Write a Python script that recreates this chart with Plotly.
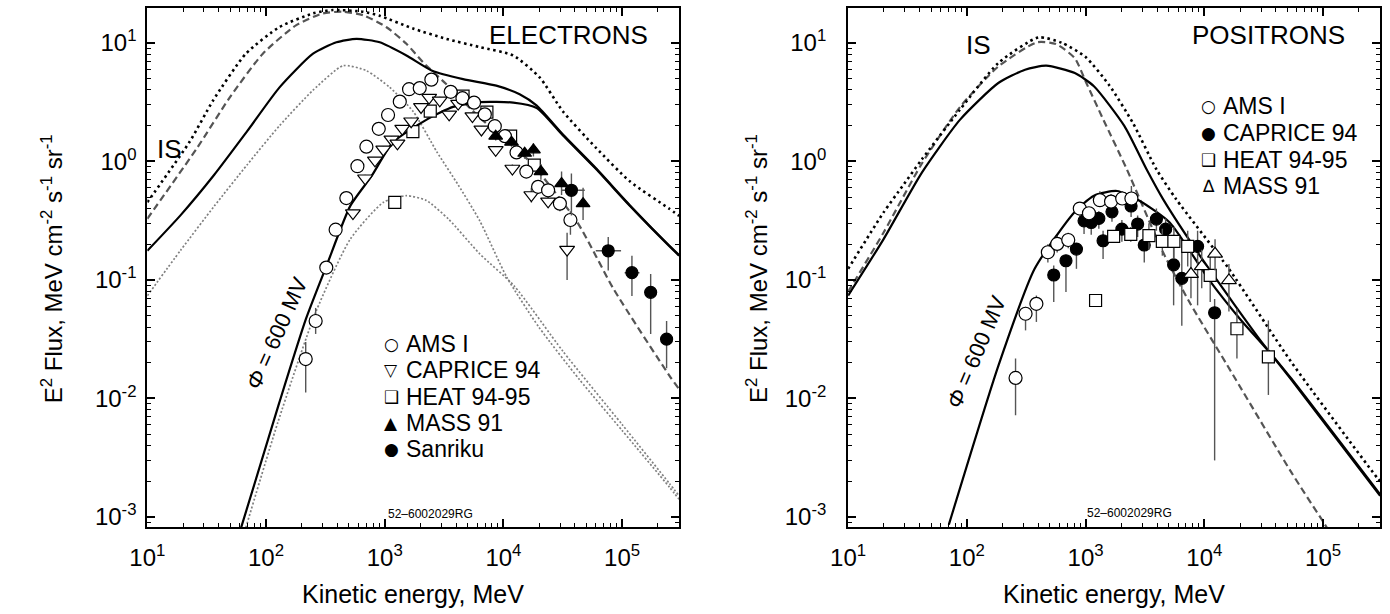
import plotly.graph_objects as go

FONT = "Liberation Sans, Arial, Helvetica, sans-serif"
W, H = 1390, 614

# ---------------- ELECTRONS: model curves (E in MeV, E^2 x flux) ----------------
el_is_dot_E = [10, 22.8, 35.8, 67.6, 130, 249, 366, 658, 908, 1730, 3310, 6310, 12100, 20200, 31600, 60300, 116000, 249000, 302000]
el_is_dot_F = [0.452, 1.47, 3.26, 8.09, 13.6, 17.7, 18.9, 18.3, 16.9, 13.2, 10.8, 9.20, 7.82, 5.11, 2.65, 1.30, 0.679, 0.399, 0.347]

el_dash_E = [10, 26.3, 49.4, 94.0, 180, 302, 443, 658, 1028, 1524, 2104, 3311, 6310, 16600, 41700, 85100, 251000, 302000]
el_dash_F = [0.328, 1.30, 3.45, 8.09, 14.1, 17.7, 18.3, 17.1, 13.6, 9.82, 6.85, 4.47, 2.34, 1.0, 0.309, 0.0832, 0.0155, 0.0120]

el_is_solid_E = [10, 19.1, 36.5, 69.2, 130, 249, 392, 579, 908, 1524, 2512, 4571, 8710, 13700, 19100, 31600, 60300, 116000, 249000, 302000]
el_is_solid_F = [0.176, 0.352, 0.767, 1.79, 4.21, 8.09, 10.1, 10.8, 10.1, 7.82, 5.82, 4.94, 4.35, 3.68, 2.95, 1.69, 0.873, 0.427, 0.195, 0.162]

el_mod_E = [61.7, 129, 217, 324, 513, 776, 1175, 2239, 3767, 6310, 12100, 19100, 31600, 60300, 116000, 249000, 302000]
el_mod_F = [0.000813, 0.00912, 0.0468, 0.132, 0.421, 0.753, 1.45, 2.24, 2.88, 3.16, 3.13, 2.82, 1.66, 0.861, 0.422, 0.193, 0.160]

el_gray_up_E = [10, 19.1, 36.5, 69.2, 130, 249, 447, 701, 1102, 1738, 2754, 4169, 6310, 10700, 19950, 43650, 100000, 251000, 302000]
el_gray_up_F = [0.0735, 0.178, 0.417, 0.933, 2.0, 3.98, 6.41, 5.82, 4.21, 2.63, 1.20, 0.631, 0.316, 0.105, 0.0398, 0.01445, 0.00537, 0.00178, 0.00141]

el_gray_lo_E = [67.6, 126, 263, 513, 977, 1514, 2239, 3467, 6310, 12300, 31600, 100000, 251000, 302000]
el_gray_lo_F = [0.000813, 0.00631, 0.0537, 0.221, 0.452, 0.513, 0.468, 0.324, 0.166, 0.0891, 0.0251, 0.00603, 0.00191, 0.00151]

# ---------------- ELECTRONS: data ----------------
el_ams_E = [216, 262, 322, 386, 475, 589, 701, 891, 1067, 1340, 1604, 1972, 2472, 3597, 4518, 5660, 6970, 8460, 10300, 12900, 15600, 19600, 23800, 29900, 36700]
el_ams_F = [0.0215, 0.045, 0.127, 0.265, 0.49, 0.91, 1.33, 1.88, 2.46, 3.19, 4.06, 4.15, 4.89, 3.86, 3.41, 3.13, 2.49, 1.98, 1.63, 1.19, 0.82, 0.61, 0.57, 0.44, 0.32]
el_ams_lo = [0.0112, 0.035, 0.115, 0.245, 0.46, 0.86, 1.26, 1.78, 2.33, 3.02, 3.85, 3.93, 4.63, 3.66, 3.23, 2.96, 2.36, 1.87, 1.54, 1.12, 0.77, 0.55, 0.51, 0.38, 0.24]
el_ams_hi = [0.030, 0.058, 0.14, 0.285, 0.52, 0.96, 1.40, 1.98, 2.59, 3.36, 4.28, 4.37, 5.15, 4.07, 3.6, 3.3, 2.62, 2.09, 1.72, 1.26, 0.87, 0.67, 0.63, 0.50, 0.38]

el_cap_E = [540, 684, 828, 973, 1140, 1280, 1406, 1671, 2023, 2366, 2911, 3491, 4157, 5485, 6530, 8610, 11900, 17200, 23800, 34400]
el_cap_F = [0.366, 0.72, 1.02, 1.26, 1.53, 1.42, 1.89, 2.18, 2.88, 3.45, 3.27, 2.49, 3.07, 2.41, 1.86, 1.25, 0.87, 0.52, 0.46, 0.18]
el_cap_lo = [0.34, 0.67, 0.95, 1.18, 1.43, 1.33, 1.77, 2.04, 2.69, 3.22, 3.05, 2.33, 2.87, 2.25, 1.74, 1.16, 0.80, 0.45, 0.41, 0.10]
el_cap_hi = [0.39, 0.77, 1.09, 1.35, 1.64, 1.52, 2.02, 2.33, 3.08, 3.69, 3.50, 2.66, 3.28, 2.58, 1.99, 1.34, 0.94, 0.60, 0.52, 0.25]

el_heat_E = [1216, 1727, 2420, 4570, 7260, 11500, 18200]
el_heat_F = [0.45, 1.78, 2.65, 3.55, 2.6, 1.63, 0.93]
el_heat_lo = [0.42, 1.67, 2.49, 3.34, 2.44, 1.52, 0.86]
el_heat_hi = [0.48, 1.90, 2.83, 3.79, 2.78, 1.75, 1.0]

el_mass_E = [8610, 11700, 15100, 17900, 20700, 30900, 46900]
el_mass_F = [1.63, 1.45, 1.17, 1.25, 0.82, 0.65, 0.44]
el_mass_lo = [1.5, 1.33, 1.05, 1.1, 0.70, 0.52, 0.32]
el_mass_hi = [1.77, 1.58, 1.30, 1.42, 0.95, 0.82, 0.60]

el_san_E = [37400, 76400, 121000, 174000, 237000]
el_san_F = [0.57, 0.176, 0.115, 0.0785, 0.0316]
el_san_lo = [0.35, 0.12, 0.073, 0.035, 0.018]
el_san_hi = [0.79, 0.23, 0.16, 0.112, 0.045]
el_san_Elo = [30900, 60000, 105000, 155000, 210000]
el_san_Ehi = [48500, 98000, 140000, 195000, 265000]

# ---------------- POSITRONS: model curves ----------------
po_is_dot_E = [10, 19.9, 28.8, 41.8, 87.7, 184, 401, 631, 1000, 1585, 2512, 3945, 5781, 16070, 53700, 285000, 302000]
po_is_dot_F = [0.124, 0.371, 0.621, 1.04, 2.74, 6.75, 11.1, 10.0, 7.59, 4.37, 2.09, 0.857, 0.480, 0.124, 0.0204, 0.00214, 0.00200]

po_dash_E = [10, 19.9, 41.7, 87.7, 184, 389, 562, 811, 1014, 1413, 2223, 4487, 7482, 15140, 53700, 101600, 112000]
po_dash_F = [0.0794, 0.251, 0.955, 2.88, 6.31, 10.1, 9.77, 7.41, 4.58, 2.24, 0.857, 0.171, 0.065, 0.0200, 0.0024, 0.00089, 0.00076]

po_is_solid_E = [10, 19.9, 41.8, 87.7, 184, 309, 466, 811, 1175, 2123, 3258, 4487, 10000, 30400, 53700, 302000]
po_is_solid_F = [0.0738, 0.221, 0.804, 2.25, 4.58, 5.93, 6.41, 5.56, 4.30, 1.98, 0.857, 0.480, 0.141, 0.0299, 0.0148, 0.00155]

po_mod_E = [70.5, 185, 372, 802, 1175, 1837, 2818, 5105, 10960, 19950, 34600, 53700, 302000]
po_mod_F = [0.000861, 0.0191, 0.124, 0.371, 0.513, 0.562, 0.468, 0.305, 0.100, 0.0468, 0.0251, 0.0145, 0.00151]

# ---------------- POSITRONS: data ----------------
po_ams_E = [257, 312, 385, 481, 576, 714, 893, 1067, 1318, 1637, 2033, 2430]
po_ams_F = [0.0149, 0.0518, 0.0628, 0.171, 0.201, 0.217, 0.40, 0.365, 0.47, 0.458, 0.486, 0.486]
po_ams_lo = [0.0072, 0.0375, 0.0442, 0.14, 0.17, 0.185, 0.36, 0.33, 0.42, 0.41, 0.43, 0.43]
po_ams_hi = [0.0217, 0.0593, 0.0738, 0.20, 0.235, 0.25, 0.44, 0.40, 0.56, 0.53, 0.56, 0.62]

po_cap_E = [539, 683, 837, 970, 1115, 1292, 1403, 1667, 2020, 2415, 2742, 3118, 3946, 4720, 5508, 6457, 8770, 12200]
po_cap_F = [0.110, 0.145, 0.182, 0.315, 0.305, 0.33, 0.214, 0.375, 0.268, 0.42, 0.296, 0.197, 0.326, 0.268, 0.134, 0.103, 0.192, 0.0528]
po_cap_lo = [0.065, 0.079, 0.124, 0.244, 0.24, 0.27, 0.15, 0.31, 0.21, 0.34, 0.23, 0.14, 0.26, 0.20, 0.061, 0.041, 0.061, 0.0030]
po_cap_hi = [0.132, 0.16, 0.20, 0.35, 0.36, 0.38, 0.26, 0.43, 0.32, 0.50, 0.35, 0.25, 0.40, 0.33, 0.235, 0.17, 0.26, 0.069]

po_heat_E = [1213, 1722, 2400, 3412, 4426, 5540, 7240, 11200, 18800, 34600]
po_heat_F = [0.067, 0.233, 0.242, 0.236, 0.211, 0.211, 0.192, 0.109, 0.0387, 0.0224]
po_heat_lo = [0.063, 0.21, 0.21, 0.18, 0.16, 0.15, 0.13, 0.065, 0.0217, 0.0107]
po_heat_hi = [0.071, 0.26, 0.28, 0.30, 0.27, 0.28, 0.26, 0.17, 0.057, 0.0455]

po_mass_E = [7710, 9500, 12300, 16100]
po_mass_F = [0.112, 0.130, 0.166, 0.099]
po_mass_lo = [0.07, 0.085, 0.12, 0.054]
po_mass_hi = [0.17, 0.18, 0.22, 0.136]

x_tick_vals = [10, 100, 1e3, 1e4, 1e5]
x_tick_text = ["10<sup>1</sup>", "10<sup>2</sup>", "10<sup>3</sup>", "10<sup>4</sup>", "10<sup>5</sup>"]
y_tick_vals = [1e-3, 1e-2, 1e-1, 1, 10]
y_tick_text = ["10<sup>-3</sup>", "10<sup>-2</sup>", "10<sup>-1</sup>", "10<sup>0</sup>", "10<sup>1</sup>"]

fig = go.Figure()

def line(E, F, xa, ya, color, width, dash, smoothing=0.6):
    fig.add_trace(go.Scatter(x=E, y=F, xaxis=xa, yaxis=ya, mode="lines",
                             line=dict(color=color, width=width, dash=dash, shape="spline", smoothing=smoothing),
                             showlegend=False, hoverinfo="skip"))

def pts(E, F, lo, hi, xa, ya, symbol, size, fill, Elo=None, Ehi=None):
    ey = dict(type="data", symmetric=False,
              array=[h - f for h, f in zip(hi, F)],
              arrayminus=[f - l for l, f in zip(lo, F)],
              color="#555555", thickness=1.4, width=0)
    kw = {}
    if Elo is not None:
        kw["error_x"] = dict(type="data", symmetric=False,
                             array=[h - e for h, e in zip(Ehi, E)],
                             arrayminus=[e - l for l, e in zip(Elo, E)],
                             color="#555555", thickness=1.4, width=0)
    fig.add_trace(go.Scatter(x=E, y=F, xaxis=xa, yaxis=ya, mode="markers",
                             marker=dict(symbol=symbol, size=size, color=fill,
                                         line=dict(color="black", width=1.2)),
                             error_y=ey, showlegend=False, **kw))

# Electrons panel
line(el_gray_up_E, el_gray_up_F, "x", "y", "#808080", 1.7, "2px,2px")
line(el_gray_lo_E, el_gray_lo_F, "x", "y", "#808080", 1.7, "2px,2px")
line(el_dash_E, el_dash_F, "x", "y", "#555555", 2.2, "7px,4px")
line(el_is_dot_E, el_is_dot_F, "x", "y", "black", 2.6, "2.5px,3.5px")
line(el_is_solid_E, el_is_solid_F, "x", "y", "black", 2.2, "solid")
line(el_mod_E, el_mod_F, "x", "y", "black", 2.2, "solid")
pts(el_heat_E, el_heat_F, el_heat_lo, el_heat_hi, "x", "y", "square", 12, "white")
pts(el_cap_E, el_cap_F, el_cap_lo, el_cap_hi, "x", "y", "triangle-down", 13, "white")
pts(el_ams_E, el_ams_F, el_ams_lo, el_ams_hi, "x", "y", "circle", 13, "white")
pts(el_mass_E, el_mass_F, el_mass_lo, el_mass_hi, "x", "y", "triangle-up", 12, "black")
pts(el_san_E, el_san_F, el_san_lo, el_san_hi, "x", "y", "circle", 12, "black", el_san_Elo, el_san_Ehi)

# Positrons panel
line(po_dash_E, po_dash_F, "x2", "y2", "#555555", 2.2, "7px,4px")
line(po_is_dot_E, po_is_dot_F, "x2", "y2", "black", 2.6, "2.5px,3.5px")
line(po_is_solid_E, po_is_solid_F, "x2", "y2", "black", 2.2, "solid")
line(po_mod_E, po_mod_F, "x2", "y2", "black", 2.2, "solid")
pts(po_cap_E, po_cap_F, po_cap_lo, po_cap_hi, "x2", "y2", "circle", 12, "black")
pts(po_heat_E, po_heat_F, po_heat_lo, po_heat_hi, "x2", "y2", "square", 12, "white")
pts(po_ams_E, po_ams_F, po_ams_lo, po_ams_hi, "x2", "y2", "circle", 13, "white")
pts(po_mass_E, po_mass_F, po_mass_lo, po_mass_hi, "x2", "y2", "triangle-up", 13, "white")

minor_x = [k * 10 ** d for d in range(1, 6) for k in range(2, 10)]
minor_y = [k * 10 ** d for d in range(-4, 2) for k in range(2, 10)]

def xax(domain, anchor, rng):
    return dict(type="log", domain=domain, anchor=anchor, range=rng,
                tickmode="array", tickvals=x_tick_vals, ticktext=x_tick_text,
                ticks="inside", ticklen=8, tickwidth=1.5, tickcolor="black",
                minor=dict(ticks="inside", ticklen=4, tickwidth=1, tickcolor="black",
                           tickmode="array", tickvals=minor_x, showgrid=False),
                showline=True, linewidth=2, linecolor="black", mirror="ticks",
                showgrid=False, zeroline=False, ticklabelstandoff=8,
                tickfont=dict(family=FONT, size=24, color="black"))

def yax(domain, anchor, standoff):
    return dict(type="log", domain=domain, anchor=anchor, range=[-3.088, 1.294],
                tickmode="array", tickvals=y_tick_vals, ticktext=y_tick_text,
                ticks="inside", ticklen=8, tickwidth=1.5, tickcolor="black",
                minor=dict(ticks="inside", ticklen=4, tickwidth=1, tickcolor="black",
                           tickmode="array", tickvals=minor_y, showgrid=False),
                showline=True, linewidth=2, linecolor="black", mirror="ticks",
                showgrid=False, zeroline=False, ticklabelstandoff=standoff,
                tickfont=dict(family=FONT, size=24, color="black"))

ydom = [1 - 530 / H, 1 - 8 / H]
fig.update_layout(
    width=W, height=H, margin=dict(l=0, r=0, t=0, b=0),
    paper_bgcolor="white", plot_bgcolor="white", showlegend=False,
    xaxis=xax([131 / W, 670 / W], "y", [1, 5.482]),
    yaxis=yax(ydom, "x", 4),
    xaxis2=xax([841 / W, 1380 / W], "y2", [1, 5.48]),
    yaxis2=yax(ydom, "x2", 15),
)

def ann(px, py, text, size, angle=0, xanchor="center", family=FONT):
    fig.add_annotation(x=px / W, y=1 - py / H, xref="paper", yref="paper", text=text,
                       showarrow=False, textangle=angle, xanchor=xanchor, yanchor="middle",
                       font=dict(family=family, size=size, color="black"))

ytitle = "E<sup>2</sup> Flux, MeV cm<sup>-2</sup> s<sup>-1</sup> sr<sup>-1</sup>"
ann(34, 270, ytitle, 24, -90)
ann(748, 270, ytitle, 24, -90)
ann(400, 597, "Kinetic energy, MeV", 25)
ann(1110, 597, "Kinetic energy, MeV", 25)

ann(558, 35, "ELECTRONS", 26)
ann(1267, 35, "POSITRONS", 26)
ann(153, 150, "IS", 26)
ann(973, 45, "IS", 26)
ann(262, 335, "<i>Φ</i> = 600 MV", 22, -66)
ann(971, 353, "<i>Φ</i> = 600 MV", 22, -67)
ann(418, 517, "52–6002029RG", 12)
ann(1126, 516, "52–6002029RG", 12)

SYM = "DejaVu Sans, sans-serif"
left_leg = [("○", "AMS I"), ("▽", "CAPRICE 94"), ("❑", "HEAT 94-95"), ("▲", "MASS 91"), ("●", "Sanriku")]
for i, (s, t) in enumerate(left_leg):
    yy = 345.5 + 26.5 * i
    ann(378, yy, s, 17, family=SYM)
    ann(391, yy, t, 23, xanchor="left")

right_leg = [("○", "AMS I"), ("●", "CAPRICE 94"), ("❑", "HEAT 94-95"), ("∆", "MASS 91")]
for i, (s, t) in enumerate(right_leg):
    yy = 107 + 26.7 * i
    ann(1206, yy, s, 17, family=SYM)
    ann(1219, yy, t, 23, xanchor="left")

fig.write_html("out.html", config={"displayModeBar": False},
               post_script="document.body.style.margin='0px';document.body.style.overflow='hidden';")
